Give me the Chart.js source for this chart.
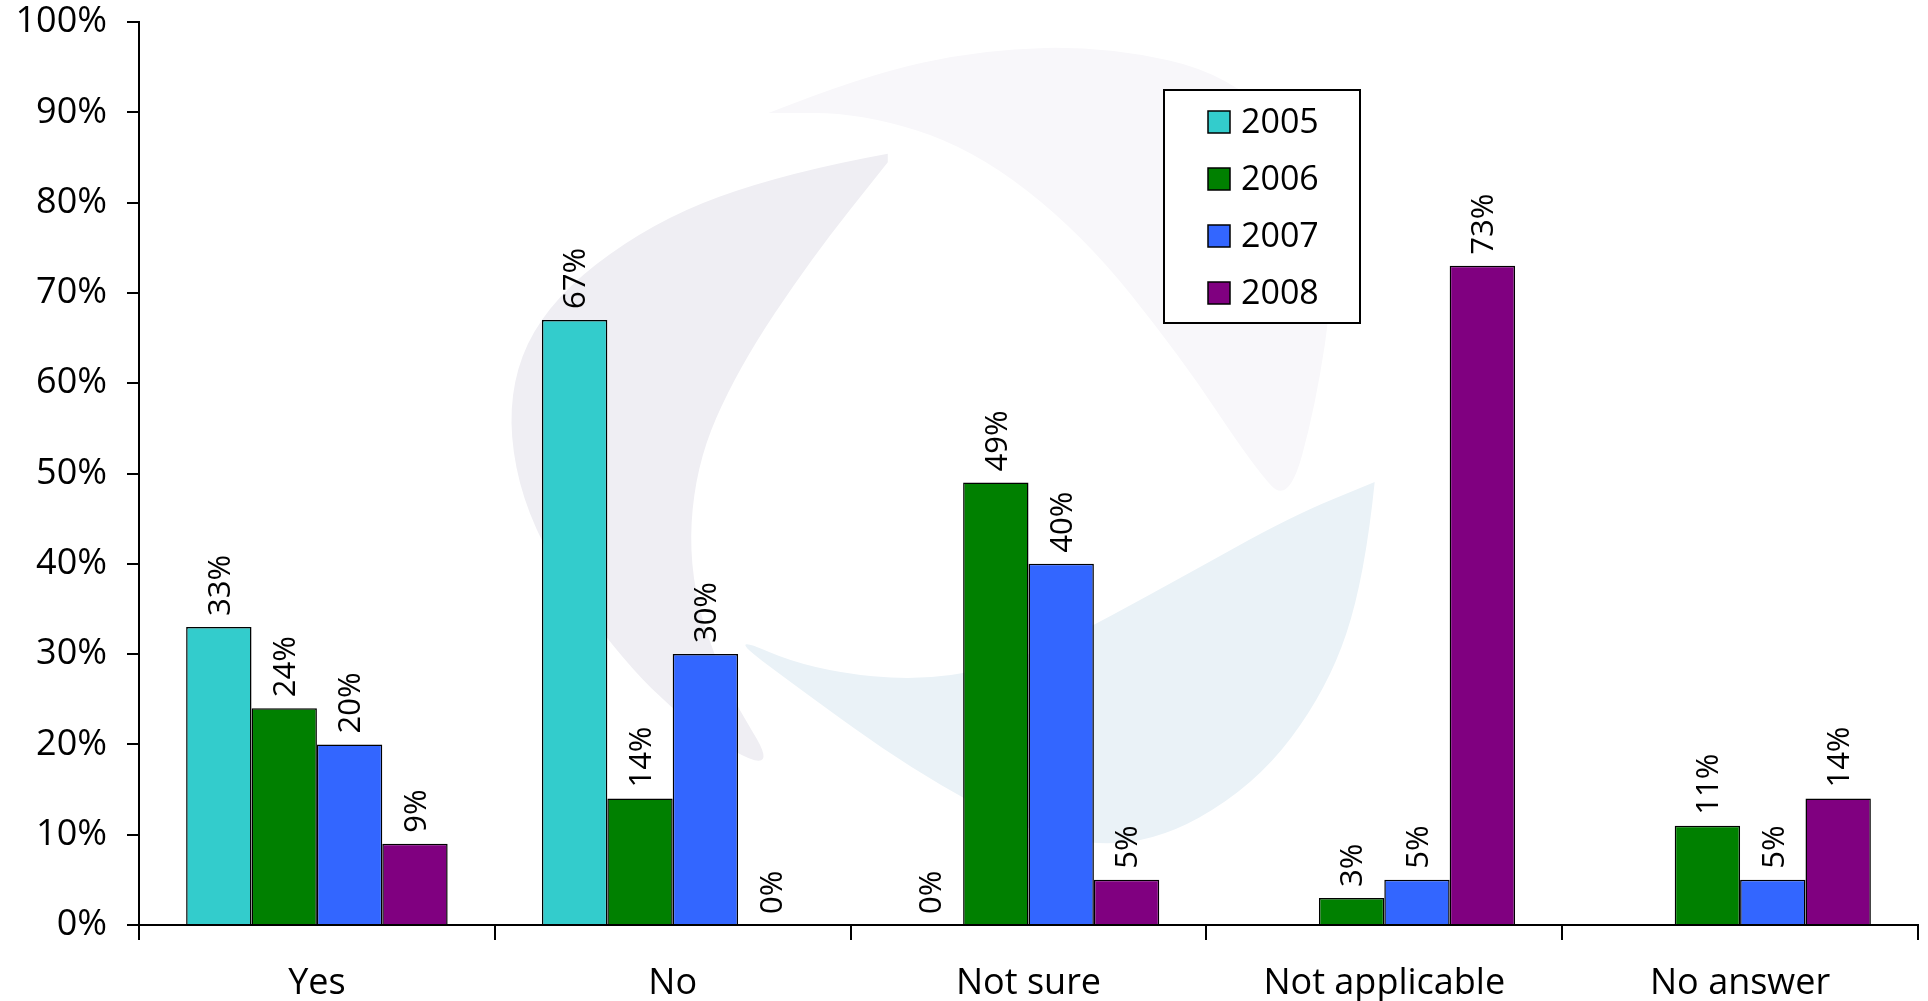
<!DOCTYPE html>
<html>
<head>
<meta charset="utf-8">
<script src="https://cdn.jsdelivr.net/npm/chart.js@4/dist/chart.umd.min.js"></script>
<style>
  html, body { margin: 0; padding: 0; background: #ffffff; }
  #wrap { width: 1928px; height: 1001px; position: relative; }
</style>
</head>
<body>
<div id="wrap"><canvas id="myChart" width="1928" height="1001"></canvas></div>
<script>
// data
const categories = ['Yes', 'No', 'Not sure', 'Not applicable', 'No answer'];
const years = ['2005', '2006', '2007', '2008'];
const values2005 = [33, 67, 0, null, null];
const values2006 = [24, 14, 49, 3, 11];
const values2007 = [20, 30, 40, 5, 5];
const values2008 = [9, 0, 5, 73, 14];
const yTicks = [0, 10, 20, 30, 40, 50, 60, 70, 80, 90, 100];

const barColors = ['#33CCCC', '#008000', '#3366FF', '#800080'];
const FONT = '"Open Sans", "DejaVu Sans", sans-serif';

// faint swirl in the background (decoration only)
const swirlPlugin = {
    id: 'swirl',
    beforeDraw(chart) {
        const ctx = chart.ctx;
        const k = 1.2296;
        const blades = [
            { color: '#EFEEF3', pts: [[722,125],[640,140],[530,180],[440,250],[410,330],[430,430],[500,530],[560,590],[635,632],[590,560],[560,470],[565,380],[600,300],[660,210],[722,132]] },
            { color: '#F8F7FA', pts: [[625,92],[700,62],[800,40],[900,38],[1000,60],[1070,130],[1085,230],[1070,330],[1048,410],[1020,380],[960,290],[880,190],[790,120],[700,92],[625,92]] },
            { color: '#EAF2F7', pts: [[1118,392],[1110,470],[1080,560],[1020,640],[930,690],[840,680],[740,625],[650,560],[590,515],[660,545],[760,555],[850,530],[960,470],[1050,420],[1118,392]] }
        ];
        ctx.save();
        blades.forEach(b => {
            const p = b.pts.map(q => [q[0] * k, q[1] * k]);
            ctx.beginPath();
            ctx.moveTo(p[0][0], p[0][1]);
            for (let i = 1; i < p.length - 1; i++) {
                const mx = (p[i][0] + p[i + 1][0]) / 2;
                const my = (p[i][1] + p[i + 1][1]) / 2;
                ctx.quadraticCurveTo(p[i][0], p[i][1], mx, my);
            }
            ctx.lineTo(p[p.length - 1][0], p[p.length - 1][1]);
            ctx.closePath();
            ctx.fillStyle = b.color;
            ctx.fill();
        });
        ctx.restore();
    }
};

// rotated value labels above bars
const valueLabels = {
    id: 'valueLabels',
    afterDatasetsDraw(chart) {
        const ctx = chart.ctx;
        ctx.save();
        ctx.font = '31px ' + FONT;
        ctx.fillStyle = '#000';
        ctx.textAlign = 'left';
        ctx.textBaseline = 'middle';
        chart.data.datasets.forEach((ds, i) => {
            const meta = chart.getDatasetMeta(i);
            meta.data.forEach((bar, j) => {
                const v = ds.data[j];
                if (v === null || v === undefined) return;
                ctx.save();
                ctx.translate(bar.x + 2, bar.y - 11);
                ctx.rotate(-Math.PI / 2);
                ctx.fillText(v + '%', 0, 0);
                ctx.restore();
            });
        });
        ctx.restore();
    }
};

// boxed legend inside the plot
const boxLegend = {
    id: 'boxLegend',
    afterDraw(chart) {
        const ctx = chart.ctx;
        const x0 = 1164, y0 = 90, w = 196, h = 233;
        ctx.save();
        ctx.fillStyle = '#fff';
        ctx.fillRect(x0, y0, w, h);
        ctx.strokeStyle = '#000';
        ctx.lineWidth = 2;
        ctx.strokeRect(x0, y0, w, h);
        ctx.font = '34px ' + FONT;
        ctx.textBaseline = 'middle';
        chart.data.datasets.forEach((ds, i) => {
            const cy = y0 + 32 + i * 57;
            ctx.fillStyle = ds.backgroundColor;
            ctx.fillRect(1208, cy - 11, 22, 22);
            ctx.lineWidth = 1.5;
            ctx.strokeRect(1208, cy - 11, 22, 22);
            ctx.fillStyle = '#000';
            ctx.fillText(ds.label, 1241, cy + 1);
        });
        ctx.restore();
    }
};

const allValues = [values2005, values2006, values2007, values2008];

new Chart(document.getElementById('myChart'), {
    type: 'bar',
    data: {
        labels: categories,
        datasets: years.map((y, i) => ({
            label: y,
            data: allValues[i],
            backgroundColor: barColors[i],
            borderColor: '#000',
            borderWidth: 1.5,
            categoryPercentage: 0.735,
            barPercentage: 1.0
        }))
    },
    options: {
        responsive: false,
        animation: false,
        events: [],
        layout: { padding: { top: 22, right: 10, left: 0, bottom: 0 } },
        plugins: {
            legend: { display: false },
            tooltip: { enabled: false }
        },
        scales: {
            x: {
                grid: { display: true, drawOnChartArea: false, drawTicks: true, tickLength: 15, color: '#000', lineWidth: 2, offset: true },
                border: { display: true, color: '#000', width: 2 },
                ticks: { color: '#000', font: { family: FONT, size: 36 }, padding: 22, maxRotation: 0 },
                afterFit(scale) { scale.height = 76; scale.paddingLeft = 0; scale.paddingRight = 0; }
            },
            y: {
                min: 0,
                max: 100,
                afterBuildTicks(scale) { scale.ticks = yTicks.map(v => ({ value: v })); },
                grid: { display: true, drawOnChartArea: false, drawTicks: true, tickLength: 12, color: '#000', lineWidth: 2 },
                border: { display: true, color: '#000', width: 2 },
                ticks: { color: '#000', font: { family: FONT, size: 36 }, padding: 20, callback: v => v + '%' },
                afterFit(scale) { scale.width = 139; scale.paddingTop = 0; scale.paddingBottom = 0; }
            }
        }
    },
    plugins: [swirlPlugin, valueLabels, boxLegend]
});
</script>
</body>
</html>
